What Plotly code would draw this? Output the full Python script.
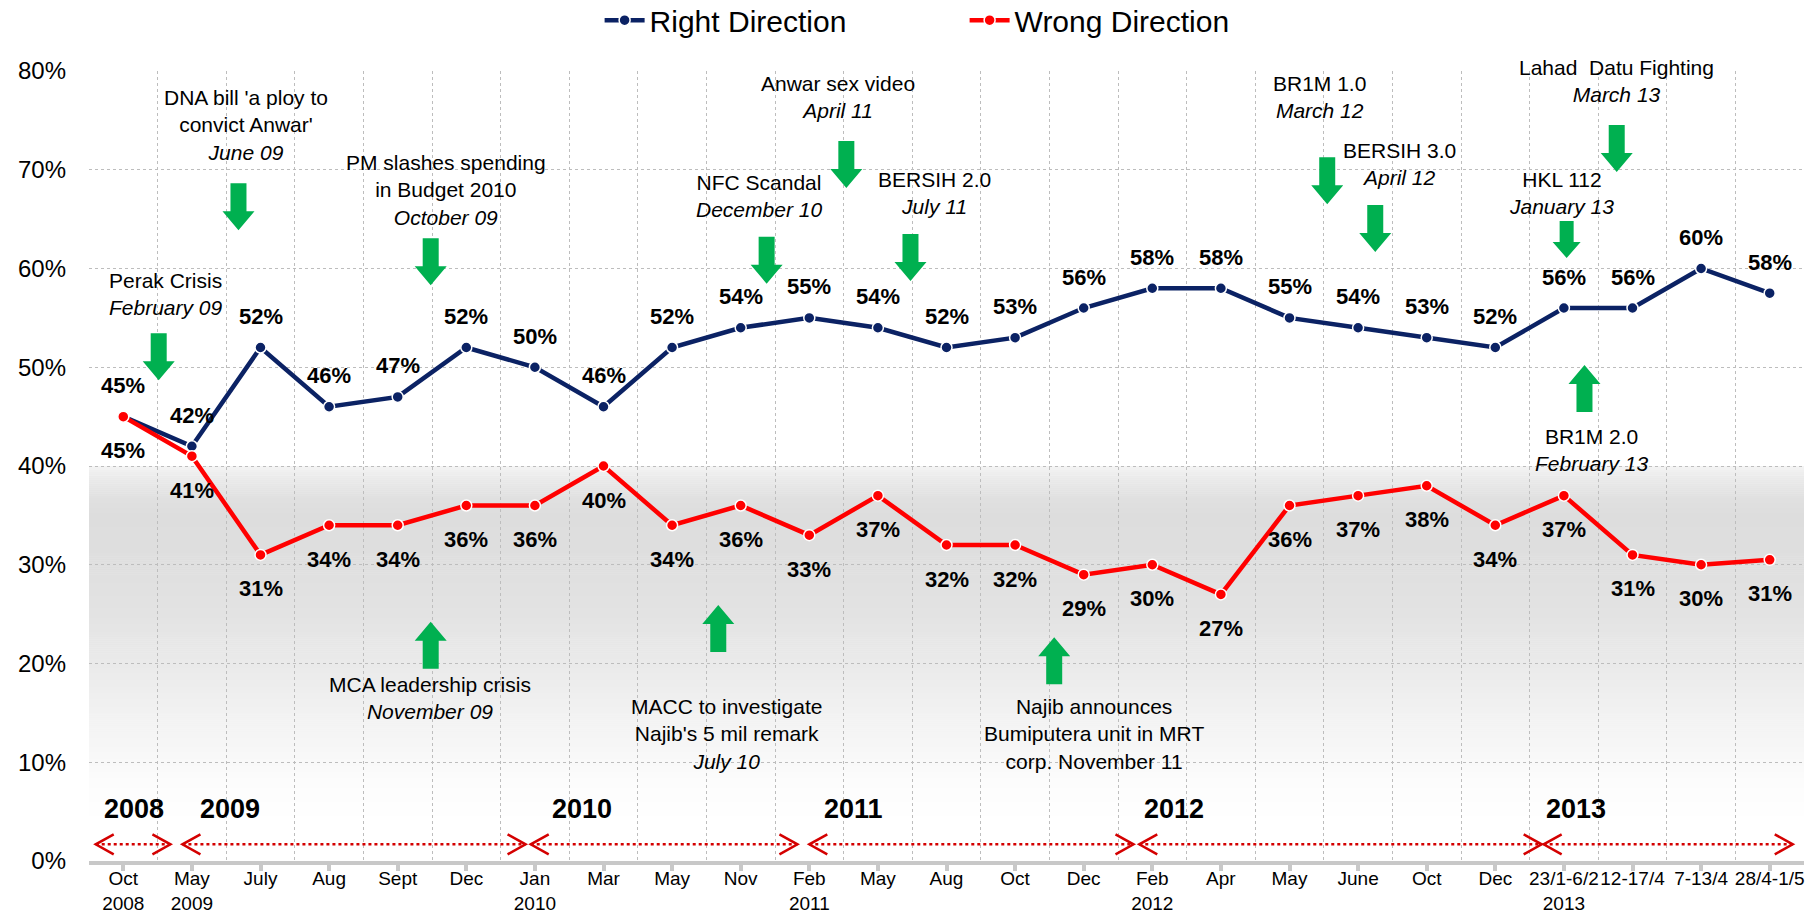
import numpy as np
import plotly.graph_objects as go

# ---------------- data ----------------
categories = ["Oct<br>2008", "May<br>2009", "July", "Aug", "Sept", "Dec", "Jan<br>2010", "Mar", "May", "Nov",
              "Feb<br>2011", "May", "Aug", "Oct", "Dec", "Feb<br>2012", "Apr", "May", "June", "Oct", "Dec",
              "23/1-6/2<br>2013", "12-17/4", "7-13/4", "28/4-1/5"]
right_direction = [45, 42, 52, 46, 47, 52, 50, 46, 52, 54, 55, 54, 52, 53, 56, 58, 58, 55, 54, 53,
                   52, 56, 56, 60, 57.5]
wrong_direction = [45, 41, 31, 34, 34, 36, 36, 40, 34, 36, 33, 37, 32, 32, 29, 30, 27, 36, 37, 38,
                   34, 37, 31, 30, 30.5]
y_ticks = [0, 10, 20, 30, 40, 50, 60, 70, 80]
y_tick_labels = ["0%", "10%", "20%", "30%", "40%", "50%", "60%", "70%", "80%"]

# event call-outs (text, x position in category units, y in %)
event_texts = [
    "Perak Crisis<br><i>February 09</i>",
    "DNA bill 'a ploy to<br>convict Anwar'<br><i>June 09</i>",
    "PM slashes spending<br>in Budget 2010<br><i>October 09</i>",
    "MCA leadership crisis<br><i>November 09</i>",
    "MACC to investigate<br>Najib's 5 mil remark<br><i>July 10</i>",
    "NFC Scandal<br><i>December 10</i>",
    "Anwar sex video<br><i>April 11</i>",
    "BERSIH 2.0<br><i>July 11</i>",
    "Najib announces<br>Bumiputera unit in MRT<br>corp. November 11",
    "BR1M 1.0<br><i>March 12</i>",
    "BERSIH 3.0<br><i>April 12</i>",
    "HKL 112<br><i>January 13</i>",
    "Lahad  Datu Fighting<br><i>March 13</i>",
    "BR1M 2.0<br><i>February 13</i>",
]
event_x = [0.618, 1.794, 4.711, 4.477, 8.789, 9.268, 10.42, 11.83, 14.15, 17.44, 18.60, 20.97, 21.77, 21.41]
event_y = [57.4, 74.55, 67.95, 16.5, 12.9, 67.39, 77.37, 67.66, 12.83, 77.37, 70.61, 67.66, 78.97, 41.67]

# green arrows (x in category units, y of the arrow's top in %, direction, length px)
arrow_x = [0.516, 1.679, 4.481, 4.481, 8.673, 9.378, 10.54, 11.475, 13.57, 17.55, 18.25, 21.04, 21.77, 21.30]
arrow_y = [53.44, 68.63, 63.06, 24.23, 25.92, 63.22, 72.91, 63.49, 22.65, 71.26, 66.43, 64.81, 74.53, 50.23]
arrow_dir = ["down", "down", "down", "up", "up", "down", "down", "down", "up", "down", "down", "down", "down", "up"]
arrow_len = [47, 47, 47, 47, 47, 47, 47, 47, 47, 47, 47, 37, 47, 47]

# year bands
years = ["2008", "2009", "2010", "2011", "2012", "2013"]
year_label_x = [0.156, 1.561, 6.682, 10.646, 15.32, 21.18]
year_start = [-0.402, 0.862, 5.939, 10.0, 14.81, 20.705]
year_end = [0.687, 5.864, 9.827, 14.726, 20.676, 24.336]
year_label_y = 5.27
year_arrow_y = 1.69

# ---------------- style ----------------
FONT = "Liberation Sans, Arial, sans-serif"
BLUE = "#0b2264"
RED = "#ff0000"
GREEN = "#00b050"
DARKRED = "#d40000"
GRID = "#bdbdbd"

x_pos = list(range(len(categories)))

fig = go.Figure()
fig.add_trace(go.Scatter(
    x=x_pos, y=right_direction, name="Right Direction", mode="lines+markers",
    line=dict(color=BLUE, width=4.5),
    marker=dict(size=11, color=BLUE, line=dict(color="white", width=1.5)),
    hoverinfo="skip"))
fig.add_trace(go.Scatter(
    x=x_pos, y=wrong_direction, name="Wrong Direction", mode="lines+markers",
    line=dict(color=RED, width=4.5),
    marker=dict(size=11, color=RED, line=dict(color="white", width=1.5)),
    hoverinfo="skip"))

shapes = []
# gray gradient band behind the lower series
stops_pct = [4, 8, 12, 16, 20, 25, 30, 35, 37, 39, 40]
stops_gray = [255, 252, 246, 240, 234, 227, 223, 221, 225, 236, 244]
step = 0.2
lo = 4.0
while lo < 40 - 1e-9:
    hi = lo + step
    g = int(round(np.interp((lo + hi) / 2, stops_pct, stops_gray)))
    shapes.append(dict(type="rect", xref="paper", yref="y", x0=0, x1=1, y0=lo, y1=min(hi + 0.05, 40),
                       fillcolor=f"rgb({g},{g},{g})", line=dict(width=0), layer="below"))
    lo = hi

# green block arrows
for ax, ay, ad, al in zip(arrow_x, arrow_y, arrow_dir, arrow_len):
    sw = 8 if al > 40 else 7
    hw = 16 if al > 40 else 14
    hh = 19 if al > 40 else 16
    if ad == "down":
        path = (f"M{-sw},0 L{sw},0 L{sw},{-(al - hh)} L{hw},{-(al - hh)} L0,{-al} "
                f"L{-hw},{-(al - hh)} L{-sw},{-(al - hh)} Z")
    else:
        path = (f"M0,0 L{hw},{-hh} L{sw},{-hh} L{sw},{-al} L{-sw},{-al} L{-sw},{-hh} L{-hw},{-hh} Z")
    shapes.append(dict(type="path", xref="x", yref="y", xsizemode="pixel", ysizemode="pixel",
                       xanchor=ax, yanchor=ay, path=path, fillcolor=GREEN, line=dict(width=0),
                       layer="above"))

# red dotted year spans with open chevrons
for xs, xe in zip(year_start, year_end):
    shapes.append(dict(type="line", xref="x", yref="y", x0=xs, x1=xe, y0=year_arrow_y, y1=year_arrow_y,
                       line=dict(color=DARKRED, width=2.5, dash="dot"), layer="above"))
    shapes.append(dict(type="path", xref="x", yref="y", xsizemode="pixel", ysizemode="pixel",
                       xanchor=xs, yanchor=year_arrow_y, path="M18,10 L0,0 L18,-10",
                       line=dict(color=DARKRED, width=2.5), layer="above"))
    shapes.append(dict(type="path", xref="x", yref="y", xsizemode="pixel", ysizemode="pixel",
                       xanchor=xe, yanchor=year_arrow_y, path="M-18,10 L0,0 L-18,-10",
                       line=dict(color=DARKRED, width=2.5), layer="above"))

annotations = []
for i, v in enumerate(right_direction):
    annotations.append(dict(x=i, y=v, xref="x", yref="y", text=f"{int(v + 0.5)}%", showarrow=False,
                            yshift=31, font=dict(family=FONT, size=22, color="black", weight="bold")))
for i, v in enumerate(wrong_direction):
    annotations.append(dict(x=i, y=v, xref="x", yref="y", text=f"{int(v + 0.5)}%", showarrow=False,
                            yshift=-34, font=dict(family=FONT, size=22, color="black", weight="bold")))
for t, ex, ey in zip(event_texts, event_x, event_y):
    annotations.append(dict(x=ex, y=ey, xref="x", yref="y", text=t, showarrow=False,
                            xanchor="center", yanchor="middle", align="center",
                            font=dict(family=FONT, size=21, color="black")))
for yr, yx in zip(years, year_label_x):
    annotations.append(dict(x=yx, y=year_label_y, xref="x", yref="y", text=yr, showarrow=False,
                            font=dict(family=FONT, size=27, color="black", weight="bold")))

fig.update_layout(
    width=1817, height=916,
    margin=dict(l=89, r=13, t=71, b=55, autoexpand=False),
    paper_bgcolor="white", plot_bgcolor="white",
    font=dict(family=FONT, color="black"),
    showlegend=True,
    legend=dict(orientation="h", xref="container", yref="container", x=0.330, y=0.978,
                xanchor="left", yanchor="middle", font=dict(family=FONT, size=30, color="black"),
                bgcolor="rgba(0,0,0,0)", entrywidth=310, itemwidth=40),
    shapes=shapes,
    annotations=annotations,
    xaxis=dict(
        type="linear", range=[-0.5, 24.5], tickmode="array", tickvals=x_pos, ticktext=categories,
        tickangle=0,
        showgrid=False, zeroline=False, showline=True, linecolor="#c8c8c8", linewidth=4,
        ticks="outside", ticklen=6, tickwidth=4, tickcolor="#c8c8c8", ticklabelstandoff=-9,
        tickfont=dict(family=FONT, size=19, color="black"),
        minor=dict(tickmode="array", tickvals=[i - 0.5 for i in range(len(categories) + 1)],
                   showgrid=True, gridcolor=GRID, griddash="dot", gridwidth=1, ticks=""),
    ),
    yaxis=dict(
        range=[0, 80], tickmode="array", tickvals=y_ticks, ticktext=y_tick_labels,
        showgrid=True, gridcolor=GRID, griddash="dot", gridwidth=1, zeroline=False, showline=False,
        ticks="", ticklabelstandoff=22, tickfont=dict(family=FONT, size=24, color="black"),
    ),
)

fig.write_html("out.html", config={"displayModeBar": False},
               post_script="document.body.style.margin='0';document.body.style.overflow='hidden';")
